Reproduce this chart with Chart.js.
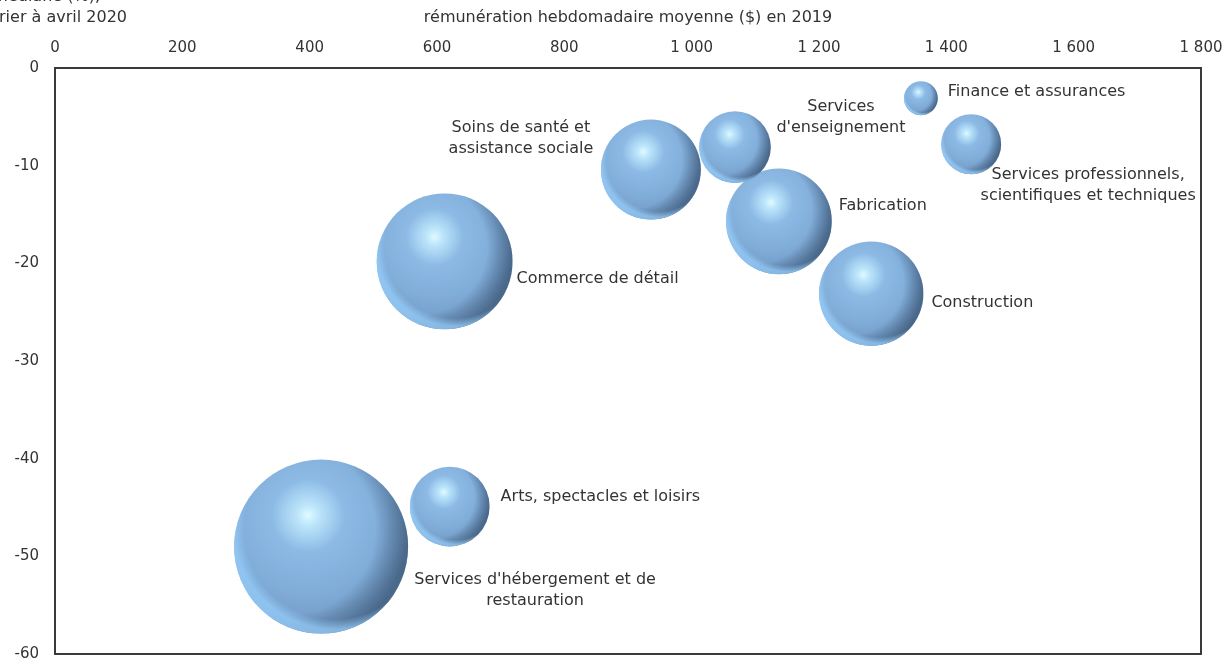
<!DOCTYPE html>
<html lang="fr">
<head>
<meta charset="utf-8">
<title>Rémunération et variation de l'emploi</title>
<script src="https://cdn.jsdelivr.net/npm/chart.js@4.4.1/dist/chart.umd.min.js"></script>
<style>
  html, body { margin: 0; padding: 0; background: #fff; overflow: hidden; }
  canvas { display: block; }
</style>
</head>
<body>
<canvas id="bulles" width="1227" height="660"></canvas>
<script>
(function () {
  'use strict';

  // ---- Data ----
  const secteurs = [
    ["Services d'hébergement et de", 'restauration'],
    ['Arts, spectacles et loisirs'],
    ['Commerce de détail'],
    ['Soins de santé et', 'assistance sociale'],
    ['Services', "d'enseignement"],
    ['Fabrication'],
    ['Construction'],
    ['Finance et assurances'],
    ['Services professionnels,', 'scientifiques et techniques']
  ];
  const remuneration = [418, 620, 612, 936, 1068, 1137, 1282, 1360, 1439];  // $ / semaine, 2019
  const variation    = [-49.0, -44.9, -19.8, -10.4, -8.1, -15.7, -23.1, -3.1, -7.8]; // %
  const taille       = [100, 21, 61, 33, 17, 37, 36, 3.8, 11.9]; // taille relative des bulles
  const xTicks = [0, 200, 400, 600, 800, 1000, 1200, 1400, 1600, 1800];
  const yTicks = [0, -10, -20, -30, -40, -50, -60];

  // ---- Style ----
  const FONT = '"DejaVu Sans", Verdana, sans-serif';
  const TXT = '#333';
  const R_MAX = 87;

  // label placement relative to bubble centre (px)
  const place = [
    { align: 'center', dx: 214, dy: 33 },
    { align: 'left', dx: 11, dy: -10, edge: true },
    { align: 'left', dx: 4, dy: 17, edge: true },
    { align: 'center', dx: -130, dy: -42 },
    { align: 'center', dx: 106, dy: -40 },
    { align: 'left', dx: 7, dy: -15, edge: true },
    { align: 'left', dx: 8, dy: 9, edge: true },
    { align: 'left', dx: 10, dy: -6, edge: true },
    { align: 'center', dx: 117, dy: 31 }
  ];

  const points = remuneration.map((x, i) => ({
    x, y: variation[i], r: R_MAX * Math.sqrt(taille[i] / 100)
  }));

  const fmt = v => String(v).replace(/\B(?=(\d{3})+(?!\d))/g, ' ');

  // base fill of each bubble: soft highlight up-left
  function sphere(ctx) {
    if (ctx.type !== 'data' || !ctx.raw) return '#80acd8';
    const chart = ctx.chart;
    const cx = chart.scales.x.getPixelForValue(ctx.raw.x);
    const cy = chart.scales.y.getPixelForValue(ctx.raw.y);
    const r = ctx.raw.r;
    if (!isFinite(cx) || !isFinite(cy)) return '#80acd8';
    const hx = cx - 0.15 * r, hy = cy - 0.36 * r;
    const g = chart.ctx.createRadialGradient(hx, hy, 0, hx, hy, 1.2 * r);
    g.addColorStop(0, '#e0faff');
    g.addColorStop(0.1, '#bde6fb');
    g.addColorStop(0.35, '#8cbae5');
    g.addColorStop(0.75, '#80acd8');
    g.addColorStop(1, '#769fca');
    return g;
  }

  // ---- Shading, frame, titles, labels ----
  const decor = {
    id: 'decor',
    afterDatasetsDraw(chart) {
      const { ctx, chartArea: a } = chart;
      const meta = chart.getDatasetMeta(0);
      ctx.save();

      // extra shading on each bubble: dark right side, light bottom rim
      meta.data.forEach((el, i) => {
        const r = points[i].r, cx = el.x, cy = el.y;
        ctx.save();
        ctx.beginPath();
        ctx.arc(cx, cy, r, 0, Math.PI * 2);
        ctx.clip();
        let sx = cx - 0.35 * r, sy = cy - 0.2 * r;
        let g = ctx.createRadialGradient(sx, sy, 0, sx, sy, 1.35 * r);
        g.addColorStop(0, 'rgba(30,50,75,0)');
        g.addColorStop(0.72, 'rgba(30,50,75,0)');
        g.addColorStop(1, 'rgba(30,50,75,0.5)');
        ctx.fillStyle = g;
        ctx.fillRect(cx - r, cy - r, 2 * r, 2 * r);
        sx = cx + 0.15 * r; sy = cy - 0.2 * r;
        g = ctx.createRadialGradient(sx, sy, 0, sx, sy, 1.15 * r);
        g.addColorStop(0, 'rgba(150,205,250,0)');
        g.addColorStop(0.9, 'rgba(150,205,250,0)');
        g.addColorStop(1, 'rgba(150,205,250,0.75)');
        ctx.fillStyle = g;
        ctx.fillRect(cx - r, cy - r, 2 * r, 2 * r);
        ctx.restore();
      });

      ctx.strokeStyle = '#3a3a3a';
      ctx.lineWidth = 2;
      ctx.strokeRect(a.left, a.top, a.right - a.left, a.bottom - a.top);

      ctx.fillStyle = TXT;
      ctx.font = '16px ' + FONT;
      ctx.textBaseline = 'middle';

      // y title (clipped on the left like the source)
      ctx.textAlign = 'right';
      ctx.fillText("variation de l'emploi médiane (%),", 100, -3);
      ctx.fillText('février à avril 2020', 127, 18);

      // bubble labels
      meta.data.forEach((el, i) => {
        const p = place[i];
        const r = points[i].r;
        const x = el.x + p.dx + (p.edge ? r : 0);
        ctx.textAlign = p.align;
        secteurs[i].forEach((line, k) => {
          ctx.fillText(line, x, el.y + p.dy + k * 21);
        });
      });
      ctx.restore();
    }
  };

  new Chart(document.getElementById('bulles'), {
    type: 'bubble',
    data: {
      datasets: [{
        data: points,
        backgroundColor: sphere,
        borderWidth: 0,
        hoverBorderWidth: 0,
        clip: false
      }]
    },
    options: {
      responsive: false,
      devicePixelRatio: 1,
      animation: false,
      events: [],
      layout: { autoPadding: false, padding: { top: 0, left: 0, right: 26, bottom: 6 } },
      plugins: { legend: { display: false }, tooltip: { enabled: false } },
      scales: {
        x: {
          type: 'linear',
          position: 'top',
          min: 0, max: 1800,
          afterBuildTicks: s => { s.ticks = xTicks.map(v => ({ value: v })); },
          afterFit: s => { s.height = 68; s.paddingLeft = 0; s.paddingRight = 0; },
          grid: { display: false, drawTicks: false },
          border: { display: false },
          ticks: { padding: 11, color: TXT, font: { family: FONT, size: 15 }, callback: v => fmt(v), maxRotation: 0 },
          title: {
            display: true,
            text: 'rémunération hebdomadaire moyenne ($) en 2019',
            color: TXT,
            font: { family: FONT, size: 16 },
            padding: { top: 8, bottom: 0 }
          }
        },
        y: {
          type: 'linear',
          min: -60, max: 0,
          afterBuildTicks: s => { s.ticks = yTicks.map(v => ({ value: v })); },
          afterFit: s => { s.width = 55; s.paddingTop = 0; s.paddingBottom = 0; },
          grid: { display: false, drawTicks: false },
          border: { display: false },
          ticks: { padding: 16, color: TXT, font: { family: FONT, size: 15 } }
        }
      }
    },
    plugins: [decor]
  });
})();
</script>
</body>
</html>
